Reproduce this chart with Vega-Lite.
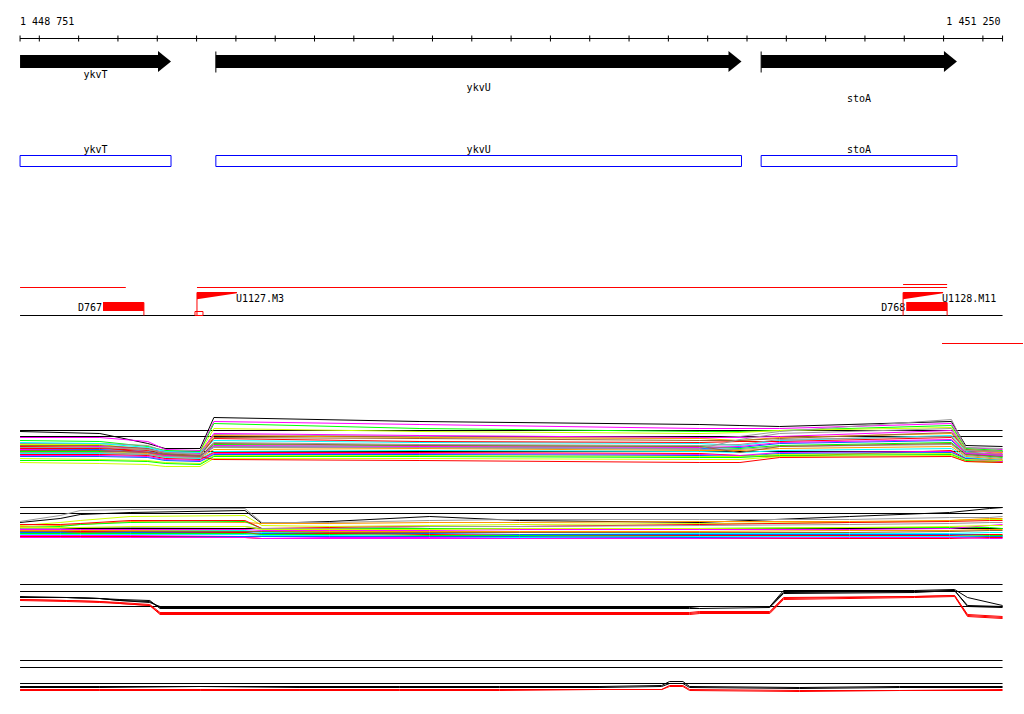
{
"$schema":"https://vega.github.io/schema/vega-lite/v6.json",
"width":1024,"height":714,
"autosize":{"type":"fit","contains":"padding"},
"padding":0,
"background":"#ffffff",
"config":{"view":{"stroke":null},"text":{"font":"DejaVu Sans Mono","fontSize":10,"color":"#000000"}},
"datasets":{
"ticks":[{"p":1448751},{"p":1448800},{"p":1448900},{"p":1449000},{"p":1449100},{"p":1449200},{"p":1449300},{"p":1449400},{"p":1449500},{"p":1449600},{"p":1449700},{"p":1449800},{"p":1449900},{"p":1450000},{"p":1450100},{"p":1450200},{"p":1450300},{"p":1450400},{"p":1450500},{"p":1450600},{"p":1450700},{"p":1450800},{"p":1450900},{"p":1451000},{"p":1451100},{"p":1451200},{"p":1451250}],
"genes":[{"gene":"ykvT","start":1448751,"end":1449135},{"gene":"ykvU","start":1449249,"end":1450586},{"gene":"stoA","start":1450636,"end":1451134}],
"dfeat":[{"name":"D767","start":1448962,"end":1449066},{"name":"D768","start":1451005,"end":1451109}],
"ufeat":[{"name":"U1127.M3","start":1449201},{"name":"U1128.M11","start":1450997}],
"refs":[{"v":430},{"v":436},{"v":451},{"v":507},{"v":513},{"v":528},{"v":584},{"v":591},{"v":606},{"v":660},{"v":667},{"v":683}],
"series":[{"s":"a1","g":"k"},{"s":"a2","g":"m"},{"s":"a3","g":"l"},{"s":"a4","g":"y"},{"s":"a5","g":"g"},{"s":"a6","g":"m"},{"s":"a7","g":"o"},{"s":"a8","g":"c"},{"s":"a9","g":"r"},{"s":"a10","g":"b"},{"s":"a11","g":"w"},{"s":"a12","g":"l"},{"s":"a13","g":"g"},{"s":"a14","g":"o"},{"s":"a15","g":"c"},{"s":"a16","g":"r"},{"s":"a17","g":"m"},{"s":"a18","g":"b"},{"s":"a19","g":"y"},{"s":"a20","g":"l"},{"s":"a21","g":"y"},{"s":"a22","g":"r"},{"s":"a23","g":"g"},{"s":"a24","g":"m"},{"s":"a25","g":"w"},{"s":"a26","g":"g"},
{"s":"b1","g":"k"},{"s":"b2","g":"g"},{"s":"b3","g":"y"},{"s":"b4","g":"o"},{"s":"b5","g":"l"},{"s":"b6","g":"r"},{"s":"b7","g":"g"},{"s":"b8","g":"m"},{"s":"b9","g":"c"},{"s":"b10","g":"b"},{"s":"b11","g":"r"},{"s":"b12","g":"l"},{"s":"b13","g":"m"},{"s":"b14","g":"o"},{"s":"b15","g":"w"},{"s":"b16","g":"y"},{"s":"b17","g":"c"},{"s":"b18","g":"b"},{"s":"b19","g":"r"},{"s":"b20","g":"m"},
{"s":"c1","g":"k"},{"s":"c2","g":"k"},{"s":"c3","g":"k"},{"s":"c4","g":"r"},{"s":"c5","g":"r"},{"s":"c6","g":"r"},
{"s":"d1","g":"k"},{"s":"d2","g":"k"},{"s":"d3","g":"r"},{"s":"d4","g":"r"}],
"prof":[
{"s":"a1","p":1448751,"v":431},{"s":"a1","p":1448954,"v":433},{"s":"a1","p":1449076,"v":443},{"s":"a1","p":1449120,"v":448},{"s":"a1","p":1449209,"v":448},{"s":"a1","p":1449244,"v":417},{"s":"a1","p":1449768,"v":421},{"s":"a1","p":1450480,"v":424},{"s":"a1","p":1450582,"v":425},{"s":"a1","p":1450683,"v":426},{"s":"a1","p":1451120,"v":421},{"s":"a1","p":1451156,"v":445},{"s":"a1","p":1451250,"v":446},
{"s":"a2","p":1448751,"v":437},{"s":"a2","p":1448954,"v":437},{"s":"a2","p":1449076,"v":441},{"s":"a2","p":1449120,"v":449},{"s":"a2","p":1449209,"v":450},{"s":"a2","p":1449244,"v":421},{"s":"a2","p":1449768,"v":424},{"s":"a2","p":1450480,"v":428},{"s":"a2","p":1450582,"v":428},{"s":"a2","p":1450683,"v":428},{"s":"a2","p":1451120,"v":423},{"s":"a2","p":1451156,"v":447},{"s":"a2","p":1451250,"v":449},
{"s":"a3","p":1448751,"v":440},{"s":"a3","p":1448954,"v":441},{"s":"a3","p":1449076,"v":446},{"s":"a3","p":1449120,"v":450},{"s":"a3","p":1449209,"v":451},{"s":"a3","p":1449244,"v":423},{"s":"a3","p":1449768,"v":428},{"s":"a3","p":1450480,"v":431},{"s":"a3","p":1450582,"v":431},{"s":"a3","p":1450683,"v":430},{"s":"a3","p":1451120,"v":425},{"s":"a3","p":1451156,"v":448},{"s":"a3","p":1451250,"v":450},
{"s":"a4","p":1448751,"v":444},{"s":"a4","p":1448954,"v":444},{"s":"a4","p":1449076,"v":449},{"s":"a4","p":1449120,"v":452},{"s":"a4","p":1449209,"v":452},{"s":"a4","p":1449244,"v":428},{"s":"a4","p":1449768,"v":431},{"s":"a4","p":1450480,"v":433},{"s":"a4","p":1450582,"v":432},{"s":"a4","p":1450683,"v":430},{"s":"a4","p":1451120,"v":427},{"s":"a4","p":1451156,"v":449},{"s":"a4","p":1451250,"v":452},
{"s":"a5","p":1448751,"v":443},{"s":"a5","p":1448954,"v":443},{"s":"a5","p":1449076,"v":445},{"s":"a5","p":1449120,"v":451},{"s":"a5","p":1449209,"v":452},{"s":"a5","p":1449244,"v":434},{"s":"a5","p":1449768,"v":436},{"s":"a5","p":1450480,"v":438},{"s":"a5","p":1450582,"v":436},{"s":"a5","p":1450683,"v":431},{"s":"a5","p":1451120,"v":419},{"s":"a5","p":1451156,"v":447},{"s":"a5","p":1451250,"v":448},
{"s":"a6","p":1448751,"v":447},{"s":"a6","p":1448954,"v":446},{"s":"a6","p":1449076,"v":448},{"s":"a6","p":1449120,"v":452},{"s":"a6","p":1449209,"v":453},{"s":"a6","p":1449244,"v":433},{"s":"a6","p":1449768,"v":435},{"s":"a6","p":1450480,"v":437},{"s":"a6","p":1450582,"v":437},{"s":"a6","p":1450683,"v":436},{"s":"a6","p":1451120,"v":430},{"s":"a6","p":1451156,"v":450},{"s":"a6","p":1451250,"v":453},
{"s":"a7","p":1448751,"v":446},{"s":"a7","p":1448954,"v":447},{"s":"a7","p":1449076,"v":449},{"s":"a7","p":1449120,"v":453},{"s":"a7","p":1449209,"v":454},{"s":"a7","p":1449244,"v":435},{"s":"a7","p":1449768,"v":437},{"s":"a7","p":1450480,"v":438},{"s":"a7","p":1450582,"v":440},{"s":"a7","p":1450683,"v":437},{"s":"a7","p":1451120,"v":433},{"s":"a7","p":1451156,"v":450},{"s":"a7","p":1451250,"v":452},
{"s":"a8","p":1448751,"v":442},{"s":"a8","p":1448954,"v":443},{"s":"a8","p":1449076,"v":447},{"s":"a8","p":1449120,"v":451},{"s":"a8","p":1449209,"v":452},{"s":"a8","p":1449244,"v":440},{"s":"a8","p":1449768,"v":442},{"s":"a8","p":1450480,"v":443},{"s":"a8","p":1450582,"v":445},{"s":"a8","p":1450683,"v":440},{"s":"a8","p":1451120,"v":435},{"s":"a8","p":1451156,"v":451},{"s":"a8","p":1451250,"v":455},
{"s":"a9","p":1448751,"v":448},{"s":"a9","p":1448954,"v":448},{"s":"a9","p":1449076,"v":450},{"s":"a9","p":1449120,"v":454},{"s":"a9","p":1449209,"v":455},{"s":"a9","p":1449244,"v":438},{"s":"a9","p":1449768,"v":441},{"s":"a9","p":1450480,"v":442},{"s":"a9","p":1450582,"v":441},{"s":"a9","p":1450683,"v":441},{"s":"a9","p":1451120,"v":437},{"s":"a9","p":1451156,"v":452},{"s":"a9","p":1451250,"v":454},
{"s":"a10","p":1448751,"v":449},{"s":"a10","p":1448954,"v":449},{"s":"a10","p":1449076,"v":451},{"s":"a10","p":1449120,"v":454},{"s":"a10","p":1449209,"v":455},{"s":"a10","p":1449244,"v":446},{"s":"a10","p":1449768,"v":447},{"s":"a10","p":1450480,"v":448},{"s":"a10","p":1450582,"v":447},{"s":"a10","p":1450683,"v":443},{"s":"a10","p":1451120,"v":440},{"s":"a10","p":1451156,"v":453},{"s":"a10","p":1451250,"v":456},
{"s":"a11","p":1448751,"v":445},{"s":"a11","p":1448954,"v":445},{"s":"a11","p":1449076,"v":448},{"s":"a11","p":1449120,"v":453},{"s":"a11","p":1449209,"v":455},{"s":"a11","p":1449244,"v":437},{"s":"a11","p":1449768,"v":438},{"s":"a11","p":1450480,"v":440},{"s":"a11","p":1450582,"v":440},{"s":"a11","p":1450683,"v":438},{"s":"a11","p":1451120,"v":432},{"s":"a11","p":1451156,"v":449},{"s":"a11","p":1451250,"v":451},
{"s":"a12","p":1448751,"v":451},{"s":"a12","p":1448954,"v":451},{"s":"a12","p":1449076,"v":452},{"s":"a12","p":1449120,"v":455},{"s":"a12","p":1449209,"v":456},{"s":"a12","p":1449244,"v":444},{"s":"a12","p":1449768,"v":445},{"s":"a12","p":1450480,"v":446},{"s":"a12","p":1450582,"v":448},{"s":"a12","p":1450683,"v":445},{"s":"a12","p":1451120,"v":442},{"s":"a12","p":1451156,"v":454},{"s":"a12","p":1451250,"v":457},
{"s":"a13","p":1448751,"v":450},{"s":"a13","p":1448954,"v":450},{"s":"a13","p":1449076,"v":451},{"s":"a13","p":1449120,"v":455},{"s":"a13","p":1449209,"v":456},{"s":"a13","p":1449244,"v":447},{"s":"a13","p":1449768,"v":447},{"s":"a13","p":1450480,"v":449},{"s":"a13","p":1450582,"v":449},{"s":"a13","p":1450683,"v":446},{"s":"a13","p":1451120,"v":444},{"s":"a13","p":1451156,"v":455},{"s":"a13","p":1451250,"v":458},
{"s":"a14","p":1448751,"v":452},{"s":"a14","p":1448954,"v":452},{"s":"a14","p":1449076,"v":453},{"s":"a14","p":1449120,"v":456},{"s":"a14","p":1449209,"v":457},{"s":"a14","p":1449244,"v":449},{"s":"a14","p":1449768,"v":448},{"s":"a14","p":1450480,"v":450},{"s":"a14","p":1450582,"v":450},{"s":"a14","p":1450683,"v":448},{"s":"a14","p":1451120,"v":446},{"s":"a14","p":1451156,"v":456},{"s":"a14","p":1451250,"v":459},
{"s":"a15","p":1448751,"v":453},{"s":"a15","p":1448954,"v":453},{"s":"a15","p":1449076,"v":454},{"s":"a15","p":1449120,"v":457},{"s":"a15","p":1449209,"v":458},{"s":"a15","p":1449244,"v":451},{"s":"a15","p":1449768,"v":450},{"s":"a15","p":1450480,"v":451},{"s":"a15","p":1450582,"v":452},{"s":"a15","p":1450683,"v":450},{"s":"a15","p":1451120,"v":448},{"s":"a15","p":1451156,"v":457},{"s":"a15","p":1451250,"v":460},
{"s":"a16","p":1448751,"v":454},{"s":"a16","p":1448954,"v":454},{"s":"a16","p":1449076,"v":455},{"s":"a16","p":1449120,"v":458},{"s":"a16","p":1449209,"v":459},{"s":"a16","p":1449244,"v":452},{"s":"a16","p":1449768,"v":452},{"s":"a16","p":1450480,"v":453},{"s":"a16","p":1450582,"v":455},{"s":"a16","p":1450683,"v":456},{"s":"a16","p":1451120,"v":450},{"s":"a16","p":1451156,"v":458},{"s":"a16","p":1451250,"v":461},
{"s":"a17","p":1448751,"v":455},{"s":"a17","p":1448954,"v":455},{"s":"a17","p":1449076,"v":456},{"s":"a17","p":1449120,"v":459},{"s":"a17","p":1449209,"v":460},{"s":"a17","p":1449244,"v":453},{"s":"a17","p":1449768,"v":453},{"s":"a17","p":1450480,"v":454},{"s":"a17","p":1450582,"v":455},{"s":"a17","p":1450683,"v":452},{"s":"a17","p":1451120,"v":451},{"s":"a17","p":1451156,"v":459},{"s":"a17","p":1451250,"v":461},
{"s":"a18","p":1448751,"v":456},{"s":"a18","p":1448954,"v":456},{"s":"a18","p":1449076,"v":457},{"s":"a18","p":1449120,"v":460},{"s":"a18","p":1449209,"v":461},{"s":"a18","p":1449244,"v":454},{"s":"a18","p":1449768,"v":454},{"s":"a18","p":1450480,"v":455},{"s":"a18","p":1450582,"v":456},{"s":"a18","p":1450683,"v":453},{"s":"a18","p":1451120,"v":452},{"s":"a18","p":1451156,"v":458},{"s":"a18","p":1451250,"v":460},
{"s":"a19","p":1448751,"v":458},{"s":"a19","p":1448954,"v":459},{"s":"a19","p":1449076,"v":460},{"s":"a19","p":1449120,"v":462},{"s":"a19","p":1449209,"v":463},{"s":"a19","p":1449244,"v":455},{"s":"a19","p":1449768,"v":455},{"s":"a19","p":1450480,"v":456},{"s":"a19","p":1450582,"v":456},{"s":"a19","p":1450683,"v":454},{"s":"a19","p":1451120,"v":453},{"s":"a19","p":1451156,"v":459},{"s":"a19","p":1451250,"v":460},
{"s":"a20","p":1448751,"v":460},{"s":"a20","p":1448954,"v":460},{"s":"a20","p":1449076,"v":461},{"s":"a20","p":1449120,"v":463},{"s":"a20","p":1449209,"v":464},{"s":"a20","p":1449244,"v":456},{"s":"a20","p":1449768,"v":456},{"s":"a20","p":1450480,"v":457},{"s":"a20","p":1450582,"v":457},{"s":"a20","p":1450683,"v":455},{"s":"a20","p":1451120,"v":454},{"s":"a20","p":1451156,"v":460},{"s":"a20","p":1451250,"v":462},
{"s":"a21","p":1448751,"v":462},{"s":"a21","p":1448954,"v":463},{"s":"a21","p":1449076,"v":464},{"s":"a21","p":1449120,"v":466},{"s":"a21","p":1449209,"v":466},{"s":"a21","p":1449244,"v":458},{"s":"a21","p":1449768,"v":458},{"s":"a21","p":1450480,"v":459},{"s":"a21","p":1450582,"v":459},{"s":"a21","p":1450683,"v":456},{"s":"a21","p":1451120,"v":455},{"s":"a21","p":1451156,"v":461},{"s":"a21","p":1451250,"v":462},
{"s":"a22","p":1448751,"v":446},{"s":"a22","p":1448954,"v":447},{"s":"a22","p":1449076,"v":452},{"s":"a22","p":1449120,"v":455},{"s":"a22","p":1449209,"v":456},{"s":"a22","p":1449244,"v":459},{"s":"a22","p":1449768,"v":460},{"s":"a22","p":1450480,"v":462},{"s":"a22","p":1450582,"v":462},{"s":"a22","p":1450683,"v":457},{"s":"a22","p":1451120,"v":456},{"s":"a22","p":1451156,"v":461},{"s":"a22","p":1451250,"v":462},
{"s":"a23","p":1448751,"v":447},{"s":"a23","p":1448954,"v":447},{"s":"a23","p":1449076,"v":449},{"s":"a23","p":1449120,"v":452},{"s":"a23","p":1449209,"v":454},{"s":"a23","p":1449244,"v":442},{"s":"a23","p":1449768,"v":444},{"s":"a23","p":1450480,"v":445},{"s":"a23","p":1450582,"v":444},{"s":"a23","p":1450683,"v":439},{"s":"a23","p":1451120,"v":436},{"s":"a23","p":1451156,"v":452},{"s":"a23","p":1451250,"v":454},
{"s":"a24","p":1448751,"v":449},{"s":"a24","p":1448954,"v":450},{"s":"a24","p":1449076,"v":452},{"s":"a24","p":1449120,"v":455},{"s":"a24","p":1449209,"v":456},{"s":"a24","p":1449244,"v":445},{"s":"a24","p":1449768,"v":446},{"s":"a24","p":1450480,"v":447},{"s":"a24","p":1450582,"v":446},{"s":"a24","p":1450683,"v":442},{"s":"a24","p":1451120,"v":439},{"s":"a24","p":1451156,"v":453},{"s":"a24","p":1451250,"v":455},
{"s":"a25","p":1448751,"v":450},{"s":"a25","p":1448954,"v":450},{"s":"a25","p":1449076,"v":452},{"s":"a25","p":1449120,"v":454},{"s":"a25","p":1449209,"v":456},{"s":"a25","p":1449244,"v":443},{"s":"a25","p":1449768,"v":445},{"s":"a25","p":1450480,"v":446},{"s":"a25","p":1450582,"v":452},{"s":"a25","p":1450683,"v":446},{"s":"a25","p":1451120,"v":443},{"s":"a25","p":1451156,"v":454},{"s":"a25","p":1451250,"v":456},
{"s":"a26","p":1448751,"v":452},{"s":"a26","p":1448954,"v":452},{"s":"a26","p":1449076,"v":454},{"s":"a26","p":1449120,"v":456},{"s":"a26","p":1449209,"v":457},{"s":"a26","p":1449244,"v":446},{"s":"a26","p":1449768,"v":447},{"s":"a26","p":1450480,"v":448},{"s":"a26","p":1450582,"v":439},{"s":"a26","p":1450683,"v":433},{"s":"a26","p":1451120,"v":428},{"s":"a26","p":1451156,"v":450},{"s":"a26","p":1451250,"v":451},
{"s":"b1","p":1448751,"v":522},{"s":"b1","p":1448853,"v":518},{"s":"b1","p":1448904,"v":514},{"s":"b1","p":1449031,"v":512},{"s":"b1","p":1449323,"v":510},{"s":"b1","p":1449366,"v":523},{"s":"b1","p":1449539,"v":521},{"s":"b1","p":1449793,"v":516},{"s":"b1","p":1450022,"v":520},{"s":"b1","p":1450480,"v":522},{"s":"b1","p":1450861,"v":516},{"s":"b1","p":1451115,"v":512},{"s":"b1","p":1451217,"v":508},{"s":"b1","p":1451250,"v":507},
{"s":"b2","p":1448751,"v":521},{"s":"b2","p":1448853,"v":515},{"s":"b2","p":1448904,"v":510},{"s":"b2","p":1449031,"v":509},{"s":"b2","p":1449323,"v":508},{"s":"b2","p":1449366,"v":522},{"s":"b2","p":1449539,"v":522},{"s":"b2","p":1449793,"v":520},{"s":"b2","p":1450022,"v":519},{"s":"b2","p":1450480,"v":519},{"s":"b2","p":1450861,"v":519},{"s":"b2","p":1451115,"v":517},{"s":"b2","p":1451217,"v":517},{"s":"b2","p":1451250,"v":516},
{"s":"b3","p":1448751,"v":525},{"s":"b3","p":1448853,"v":522},{"s":"b3","p":1448904,"v":520},{"s":"b3","p":1449031,"v":516},{"s":"b3","p":1449323,"v":515},{"s":"b3","p":1449366,"v":525},{"s":"b3","p":1449539,"v":526},{"s":"b3","p":1449793,"v":525},{"s":"b3","p":1450022,"v":524},{"s":"b3","p":1450480,"v":523},{"s":"b3","p":1450861,"v":522},{"s":"b3","p":1451115,"v":520},{"s":"b3","p":1451217,"v":519},{"s":"b3","p":1451250,"v":519},
{"s":"b4","p":1448751,"v":526},{"s":"b4","p":1448853,"v":525},{"s":"b4","p":1448904,"v":524},{"s":"b4","p":1449031,"v":521},{"s":"b4","p":1449323,"v":522},{"s":"b4","p":1449366,"v":523},{"s":"b4","p":1449539,"v":523},{"s":"b4","p":1449793,"v":522},{"s":"b4","p":1450022,"v":522},{"s":"b4","p":1450480,"v":521},{"s":"b4","p":1450861,"v":521},{"s":"b4","p":1451115,"v":520},{"s":"b4","p":1451217,"v":518},{"s":"b4","p":1451250,"v":518},
{"s":"b5","p":1448751,"v":527},{"s":"b5","p":1448853,"v":526},{"s":"b5","p":1448904,"v":524},{"s":"b5","p":1449031,"v":522},{"s":"b5","p":1449323,"v":521},{"s":"b5","p":1449366,"v":528},{"s":"b5","p":1449539,"v":528},{"s":"b5","p":1449793,"v":528},{"s":"b5","p":1450022,"v":528},{"s":"b5","p":1450480,"v":528},{"s":"b5","p":1450861,"v":527},{"s":"b5","p":1451115,"v":527},{"s":"b5","p":1451217,"v":527},{"s":"b5","p":1451250,"v":528},
{"s":"b6","p":1448751,"v":524},{"s":"b6","p":1448853,"v":524},{"s":"b6","p":1448904,"v":523},{"s":"b6","p":1449031,"v":520},{"s":"b6","p":1449323,"v":520},{"s":"b6","p":1449366,"v":528},{"s":"b6","p":1449539,"v":527},{"s":"b6","p":1449793,"v":526},{"s":"b6","p":1450022,"v":526},{"s":"b6","p":1450480,"v":524},{"s":"b6","p":1450861,"v":522},{"s":"b6","p":1451115,"v":521},{"s":"b6","p":1451217,"v":520},{"s":"b6","p":1451250,"v":520},
{"s":"b7","p":1448751,"v":528},{"s":"b7","p":1448853,"v":528},{"s":"b7","p":1448904,"v":527},{"s":"b7","p":1449031,"v":527},{"s":"b7","p":1449323,"v":526},{"s":"b7","p":1449366,"v":528},{"s":"b7","p":1449539,"v":528},{"s":"b7","p":1449793,"v":526},{"s":"b7","p":1450022,"v":526},{"s":"b7","p":1450480,"v":525},{"s":"b7","p":1450861,"v":524},{"s":"b7","p":1451115,"v":523},{"s":"b7","p":1451217,"v":522},{"s":"b7","p":1451250,"v":522},
{"s":"b8","p":1448751,"v":529},{"s":"b8","p":1448853,"v":529},{"s":"b8","p":1448904,"v":529},{"s":"b8","p":1449031,"v":529},{"s":"b8","p":1449323,"v":529},{"s":"b8","p":1449366,"v":530},{"s":"b8","p":1449539,"v":530},{"s":"b8","p":1449793,"v":530},{"s":"b8","p":1450022,"v":529},{"s":"b8","p":1450480,"v":529},{"s":"b8","p":1450861,"v":529},{"s":"b8","p":1451115,"v":528},{"s":"b8","p":1451217,"v":525},{"s":"b8","p":1451250,"v":524},
{"s":"b9","p":1448751,"v":531},{"s":"b9","p":1448853,"v":531},{"s":"b9","p":1448904,"v":531},{"s":"b9","p":1449031,"v":530},{"s":"b9","p":1449323,"v":530},{"s":"b9","p":1449366,"v":532},{"s":"b9","p":1449539,"v":532},{"s":"b9","p":1449793,"v":532},{"s":"b9","p":1450022,"v":532},{"s":"b9","p":1450480,"v":533},{"s":"b9","p":1450861,"v":533},{"s":"b9","p":1451115,"v":533},{"s":"b9","p":1451217,"v":532},{"s":"b9","p":1451250,"v":532},
{"s":"b10","p":1448751,"v":532},{"s":"b10","p":1448853,"v":532},{"s":"b10","p":1448904,"v":532},{"s":"b10","p":1449031,"v":532},{"s":"b10","p":1449323,"v":532},{"s":"b10","p":1449366,"v":533},{"s":"b10","p":1449539,"v":533},{"s":"b10","p":1449793,"v":533},{"s":"b10","p":1450022,"v":534},{"s":"b10","p":1450480,"v":534},{"s":"b10","p":1450861,"v":534},{"s":"b10","p":1451115,"v":534},{"s":"b10","p":1451217,"v":534},{"s":"b10","p":1451250,"v":535},
{"s":"b11","p":1448751,"v":530},{"s":"b11","p":1448853,"v":531},{"s":"b11","p":1448904,"v":531},{"s":"b11","p":1449031,"v":531},{"s":"b11","p":1449323,"v":532},{"s":"b11","p":1449366,"v":534},{"s":"b11","p":1449539,"v":533},{"s":"b11","p":1449793,"v":534},{"s":"b11","p":1450022,"v":535},{"s":"b11","p":1450480,"v":535},{"s":"b11","p":1450861,"v":535},{"s":"b11","p":1451115,"v":535},{"s":"b11","p":1451217,"v":534},{"s":"b11","p":1451250,"v":534},
{"s":"b12","p":1448751,"v":533},{"s":"b12","p":1448853,"v":533},{"s":"b12","p":1448904,"v":533},{"s":"b12","p":1449031,"v":533},{"s":"b12","p":1449323,"v":533},{"s":"b12","p":1449366,"v":534},{"s":"b12","p":1449539,"v":534},{"s":"b12","p":1449793,"v":535},{"s":"b12","p":1450022,"v":535},{"s":"b12","p":1450480,"v":536},{"s":"b12","p":1450861,"v":536},{"s":"b12","p":1451115,"v":536},{"s":"b12","p":1451217,"v":535},{"s":"b12","p":1451250,"v":535},
{"s":"b13","p":1448751,"v":535},{"s":"b13","p":1448853,"v":535},{"s":"b13","p":1448904,"v":535},{"s":"b13","p":1449031,"v":535},{"s":"b13","p":1449323,"v":536},{"s":"b13","p":1449366,"v":536},{"s":"b13","p":1449539,"v":537},{"s":"b13","p":1449793,"v":537},{"s":"b13","p":1450022,"v":537},{"s":"b13","p":1450480,"v":537},{"s":"b13","p":1450861,"v":536},{"s":"b13","p":1451115,"v":536},{"s":"b13","p":1451217,"v":536},{"s":"b13","p":1451250,"v":537},
{"s":"b14","p":1448751,"v":530},{"s":"b14","p":1448853,"v":530},{"s":"b14","p":1448904,"v":530},{"s":"b14","p":1449031,"v":530},{"s":"b14","p":1449323,"v":531},{"s":"b14","p":1449366,"v":531},{"s":"b14","p":1449539,"v":531},{"s":"b14","p":1449793,"v":531},{"s":"b14","p":1450022,"v":531},{"s":"b14","p":1450480,"v":531},{"s":"b14","p":1450861,"v":530},{"s":"b14","p":1451115,"v":530},{"s":"b14","p":1451217,"v":529},{"s":"b14","p":1451250,"v":529},
{"s":"b15","p":1448751,"v":531},{"s":"b15","p":1448853,"v":531},{"s":"b15","p":1448904,"v":532},{"s":"b15","p":1449031,"v":531},{"s":"b15","p":1449323,"v":531},{"s":"b15","p":1449366,"v":531},{"s":"b15","p":1449539,"v":532},{"s":"b15","p":1449793,"v":532},{"s":"b15","p":1450022,"v":532},{"s":"b15","p":1450480,"v":532},{"s":"b15","p":1450861,"v":532},{"s":"b15","p":1451115,"v":531},{"s":"b15","p":1451217,"v":530},{"s":"b15","p":1451250,"v":530},
{"s":"b16","p":1448751,"v":527},{"s":"b16","p":1448853,"v":527},{"s":"b16","p":1448904,"v":527},{"s":"b16","p":1449031,"v":526},{"s":"b16","p":1449323,"v":526},{"s":"b16","p":1449366,"v":529},{"s":"b16","p":1449539,"v":529},{"s":"b16","p":1449793,"v":529},{"s":"b16","p":1450022,"v":528},{"s":"b16","p":1450480,"v":528},{"s":"b16","p":1450861,"v":527},{"s":"b16","p":1451115,"v":526},{"s":"b16","p":1451217,"v":525},{"s":"b16","p":1451250,"v":525},
{"s":"b17","p":1448751,"v":534},{"s":"b17","p":1448853,"v":534},{"s":"b17","p":1448904,"v":534},{"s":"b17","p":1449031,"v":534},{"s":"b17","p":1449323,"v":534},{"s":"b17","p":1449366,"v":535},{"s":"b17","p":1449539,"v":535},{"s":"b17","p":1449793,"v":536},{"s":"b17","p":1450022,"v":537},{"s":"b17","p":1450480,"v":536},{"s":"b17","p":1450861,"v":536},{"s":"b17","p":1451115,"v":536},{"s":"b17","p":1451217,"v":536},{"s":"b17","p":1451250,"v":536},
{"s":"b18","p":1448751,"v":536},{"s":"b18","p":1448853,"v":536},{"s":"b18","p":1448904,"v":536},{"s":"b18","p":1449031,"v":536},{"s":"b18","p":1449323,"v":536},{"s":"b18","p":1449366,"v":536},{"s":"b18","p":1449539,"v":536},{"s":"b18","p":1449793,"v":536},{"s":"b18","p":1450022,"v":536},{"s":"b18","p":1450480,"v":537},{"s":"b18","p":1450861,"v":538},{"s":"b18","p":1451115,"v":537},{"s":"b18","p":1451217,"v":536},{"s":"b18","p":1451250,"v":536},
{"s":"b19","p":1448751,"v":536},{"s":"b19","p":1448853,"v":536},{"s":"b19","p":1448904,"v":536},{"s":"b19","p":1449031,"v":536},{"s":"b19","p":1449323,"v":537},{"s":"b19","p":1449366,"v":538},{"s":"b19","p":1449539,"v":538},{"s":"b19","p":1449793,"v":538},{"s":"b19","p":1450022,"v":538},{"s":"b19","p":1450480,"v":538},{"s":"b19","p":1450861,"v":538},{"s":"b19","p":1451115,"v":538},{"s":"b19","p":1451217,"v":537},{"s":"b19","p":1451250,"v":537},
{"s":"b20","p":1448751,"v":537},{"s":"b20","p":1448853,"v":537},{"s":"b20","p":1448904,"v":537},{"s":"b20","p":1449031,"v":537},{"s":"b20","p":1449323,"v":537},{"s":"b20","p":1449366,"v":538},{"s":"b20","p":1449539,"v":538},{"s":"b20","p":1449793,"v":538},{"s":"b20","p":1450022,"v":538},{"s":"b20","p":1450480,"v":538},{"s":"b20","p":1450861,"v":537},{"s":"b20","p":1451115,"v":537},{"s":"b20","p":1451217,"v":538},{"s":"b20","p":1451250,"v":538},
{"s":"c1","p":1448751,"v":596},{"s":"c1","p":1448870,"v":597},{"s":"c1","p":1448954,"v":598},{"s":"c1","p":1449005,"v":600},{"s":"c1","p":1449081,"v":601},{"s":"c1","p":1449107,"v":607},{"s":"c1","p":1450454,"v":607},{"s":"c1","p":1450480,"v":606},{"s":"c1","p":1450658,"v":606},{"s":"c1","p":1450693,"v":592},{"s":"c1","p":1451026,"v":591},{"s":"c1","p":1451128,"v":590},{"s":"c1","p":1451161,"v":605},{"s":"c1","p":1451250,"v":606},
{"s":"c2","p":1448751,"v":597},{"s":"c2","p":1448870,"v":597},{"s":"c2","p":1448954,"v":598},{"s":"c2","p":1449005,"v":599},{"s":"c2","p":1449081,"v":600},{"s":"c2","p":1449107,"v":608},{"s":"c2","p":1450454,"v":608},{"s":"c2","p":1450480,"v":608},{"s":"c2","p":1450658,"v":607},{"s":"c2","p":1450693,"v":593},{"s":"c2","p":1451026,"v":592},{"s":"c2","p":1451128,"v":590},{"s":"c2","p":1451161,"v":606},{"s":"c2","p":1451250,"v":607},
{"s":"c3","p":1448751,"v":597},{"s":"c3","p":1448870,"v":597},{"s":"c3","p":1448954,"v":598},{"s":"c3","p":1449005,"v":600},{"s":"c3","p":1449081,"v":602},{"s":"c3","p":1449107,"v":606},{"s":"c3","p":1450454,"v":606},{"s":"c3","p":1450480,"v":606},{"s":"c3","p":1450658,"v":606},{"s":"c3","p":1450693,"v":590},{"s":"c3","p":1451026,"v":590},{"s":"c3","p":1451128,"v":589},{"s":"c3","p":1451161,"v":597},{"s":"c3","p":1451250,"v":605},
{"s":"c4","p":1448751,"v":599},{"s":"c4","p":1448870,"v":600},{"s":"c4","p":1448954,"v":601},{"s":"c4","p":1449005,"v":603},{"s":"c4","p":1449081,"v":605},{"s":"c4","p":1449107,"v":613},{"s":"c4","p":1450454,"v":613},{"s":"c4","p":1450480,"v":612},{"s":"c4","p":1450658,"v":612},{"s":"c4","p":1450693,"v":598},{"s":"c4","p":1451026,"v":596},{"s":"c4","p":1451128,"v":595},{"s":"c4","p":1451161,"v":614},{"s":"c4","p":1451250,"v":616},
{"s":"c5","p":1448751,"v":600},{"s":"c5","p":1448870,"v":601},{"s":"c5","p":1448954,"v":602},{"s":"c5","p":1449005,"v":603},{"s":"c5","p":1449081,"v":605},{"s":"c5","p":1449107,"v":614},{"s":"c5","p":1450454,"v":614},{"s":"c5","p":1450480,"v":613},{"s":"c5","p":1450658,"v":613},{"s":"c5","p":1450693,"v":599},{"s":"c5","p":1451026,"v":597},{"s":"c5","p":1451128,"v":596},{"s":"c5","p":1451161,"v":616},{"s":"c5","p":1451250,"v":618},
{"s":"c6","p":1448751,"v":599},{"s":"c6","p":1448870,"v":600},{"s":"c6","p":1448954,"v":601},{"s":"c6","p":1449005,"v":602},{"s":"c6","p":1449081,"v":604},{"s":"c6","p":1449107,"v":612},{"s":"c6","p":1450454,"v":612},{"s":"c6","p":1450480,"v":611},{"s":"c6","p":1450658,"v":611},{"s":"c6","p":1450693,"v":597},{"s":"c6","p":1451026,"v":596},{"s":"c6","p":1451128,"v":595},{"s":"c6","p":1451161,"v":615},{"s":"c6","p":1451250,"v":617},
{"s":"d1","p":1448751,"v":686},{"s":"d1","p":1448954,"v":686},{"s":"d1","p":1449209,"v":686},{"s":"d1","p":1449463,"v":686},{"s":"d1","p":1449717,"v":686},{"s":"d1","p":1449971,"v":686},{"s":"d1","p":1450226,"v":686},{"s":"d1","p":1450383,"v":685},{"s":"d1","p":1450403,"v":681},{"s":"d1","p":1450437,"v":681},{"s":"d1","p":1450454,"v":686},{"s":"d1","p":1450734,"v":687},{"s":"d1","p":1450988,"v":686},{"s":"d1","p":1451250,"v":686},
{"s":"d2","p":1448751,"v":687},{"s":"d2","p":1448954,"v":687},{"s":"d2","p":1449209,"v":686},{"s":"d2","p":1449463,"v":687},{"s":"d2","p":1449717,"v":687},{"s":"d2","p":1449971,"v":687},{"s":"d2","p":1450226,"v":687},{"s":"d2","p":1450383,"v":686},{"s":"d2","p":1450403,"v":683},{"s":"d2","p":1450437,"v":683},{"s":"d2","p":1450454,"v":687},{"s":"d2","p":1450734,"v":688},{"s":"d2","p":1450988,"v":687},{"s":"d2","p":1451250,"v":687},
{"s":"d3","p":1448751,"v":689},{"s":"d3","p":1448954,"v":689},{"s":"d3","p":1449209,"v":689},{"s":"d3","p":1449463,"v":689},{"s":"d3","p":1449717,"v":689},{"s":"d3","p":1449971,"v":689},{"s":"d3","p":1450226,"v":689},{"s":"d3","p":1450383,"v":689},{"s":"d3","p":1450403,"v":685},{"s":"d3","p":1450437,"v":685},{"s":"d3","p":1450454,"v":689},{"s":"d3","p":1450734,"v":690},{"s":"d3","p":1450988,"v":690},{"s":"d3","p":1451250,"v":689},
{"s":"d4","p":1448751,"v":690},{"s":"d4","p":1448954,"v":690},{"s":"d4","p":1449209,"v":690},{"s":"d4","p":1449463,"v":690},{"s":"d4","p":1449717,"v":690},{"s":"d4","p":1449971,"v":690},{"s":"d4","p":1450226,"v":689},{"s":"d4","p":1450383,"v":689},{"s":"d4","p":1450403,"v":686},{"s":"d4","p":1450437,"v":686},{"s":"d4","p":1450454,"v":690},{"s":"d4","p":1450734,"v":691},{"s":"d4","p":1450988,"v":690},{"s":"d4","p":1451250,"v":690}
]
},
"layer":[
{"data":{"values":[{"a":1448751,"b":1451250}]},"mark":{"type":"rule","color":"#000000","strokeWidth":1},
 "encoding":{"x":{"field":"a","type":"quantitative","scale":{"domain":[1448700,1451302]},"axis":null},"x2":{"field":"b"},"y":{"datum":38,"type":"quantitative","scale":{"domain":[-0.5,713.5],"reverse":true},"axis":null}}},
{"data":{"name":"ticks"},"mark":{"type":"rule","color":"#000000","strokeWidth":1},
 "encoding":{"x":{"field":"p","type":"quantitative","scale":{"domain":[1448700,1451302]},"axis":null},"y":{"datum":35,"type":"quantitative","scale":{"domain":[-0.5,713.5],"reverse":true},"axis":null},"y2":{"datum":41}}},
{"data":{"values":[{"p":1448751,"t":"1 448 751"}]},"mark":{"type":"text","align":"left","baseline":"alphabetic"},
 "encoding":{"x":{"field":"p","type":"quantitative","scale":{"domain":[1448700,1451302]},"axis":null},"y":{"datum":24,"type":"quantitative","scale":{"domain":[-0.5,713.5],"reverse":true},"axis":null},"text":{"field":"t"}}},
{"data":{"values":[{"p":1451250,"t":"1 451 250"}]},"mark":{"type":"text","align":"right","baseline":"alphabetic","dx":-2},
 "encoding":{"x":{"field":"p","type":"quantitative","scale":{"domain":[1448700,1451302]},"axis":null},"y":{"datum":24,"type":"quantitative","scale":{"domain":[-0.5,713.5],"reverse":true},"axis":null},"text":{"field":"t"}}},
{"data":{"name":"genes"},"mark":{"type":"rect","color":"#000000","x2Offset":-12},
 "encoding":{"x":{"field":"start","type":"quantitative","scale":{"domain":[1448700,1451302]},"axis":null},"x2":{"field":"end"},"y":{"datum":54.5,"type":"quantitative","scale":{"domain":[-0.5,713.5],"reverse":true},"axis":null},"y2":{"datum":67.5}}},
{"data":{"name":"genes"},"mark":{"type":"point","shape":"M-1.24,-1L0,0L-1.24,1Z","size":441,"filled":true,"opacity":1,"color":"#000000","strokeWidth":0},
 "encoding":{"x":{"field":"end","type":"quantitative","scale":{"domain":[1448700,1451302]},"axis":null},"y":{"datum":61,"type":"quantitative","scale":{"domain":[-0.5,713.5],"reverse":true},"axis":null}}},
{"data":{"name":"genes"},"transform":[{"filter":"datum.gene !== 'ykvT'"}],"mark":{"type":"rule","color":"#000000","strokeWidth":1},
 "encoding":{"x":{"field":"start","type":"quantitative","scale":{"domain":[1448700,1451302]},"axis":null},"y":{"datum":51,"type":"quantitative","scale":{"domain":[-0.5,713.5],"reverse":true},"axis":null},"y2":{"datum":72}}},
{"data":{"name":"genes"},"transform":[{"fold":["start","end"],"as":["k","pp"]},{"aggregate":[{"op":"mean","field":"pp","as":"mid"}],"groupby":["gene"]},{"filter":"datum.gene === 'ykvT'"}],"mark":{"type":"text","align":"center","baseline":"alphabetic"},
 "encoding":{"x":{"field":"mid","type":"quantitative","scale":{"domain":[1448700,1451302]},"axis":null},"y":{"datum":77,"type":"quantitative","scale":{"domain":[-0.5,713.5],"reverse":true},"axis":null},"text":{"field":"gene"}}},
{"data":{"name":"genes"},"transform":[{"fold":["start","end"],"as":["k","pp"]},{"aggregate":[{"op":"mean","field":"pp","as":"mid"}],"groupby":["gene"]},{"filter":"datum.gene === 'ykvU'"}],"mark":{"type":"text","align":"center","baseline":"alphabetic"},
 "encoding":{"x":{"field":"mid","type":"quantitative","scale":{"domain":[1448700,1451302]},"axis":null},"y":{"datum":90,"type":"quantitative","scale":{"domain":[-0.5,713.5],"reverse":true},"axis":null},"text":{"field":"gene"}}},
{"data":{"name":"genes"},"transform":[{"fold":["start","end"],"as":["k","pp"]},{"aggregate":[{"op":"mean","field":"pp","as":"mid"}],"groupby":["gene"]},{"filter":"datum.gene === 'stoA'"}],"mark":{"type":"text","align":"center","baseline":"alphabetic"},
 "encoding":{"x":{"field":"mid","type":"quantitative","scale":{"domain":[1448700,1451302]},"axis":null},"y":{"datum":101,"type":"quantitative","scale":{"domain":[-0.5,713.5],"reverse":true},"axis":null},"text":{"field":"gene"}}},
{"data":{"name":"genes"},"mark":{"type":"rect","filled":false,"color":"#0000ff","strokeWidth":1},
 "encoding":{"x":{"field":"start","type":"quantitative","scale":{"domain":[1448700,1451302]},"axis":null},"x2":{"field":"end"},"y":{"datum":155,"type":"quantitative","scale":{"domain":[-0.5,713.5],"reverse":true},"axis":null},"y2":{"datum":166}}},
{"data":{"name":"genes"},"transform":[{"fold":["start","end"],"as":["k","pp"]},{"aggregate":[{"op":"mean","field":"pp","as":"mid"}],"groupby":["gene"]}],"mark":{"type":"text","align":"center","baseline":"alphabetic"},
 "encoding":{"x":{"field":"mid","type":"quantitative","scale":{"domain":[1448700,1451302]},"axis":null},"y":{"datum":152,"type":"quantitative","scale":{"domain":[-0.5,713.5],"reverse":true},"axis":null},"text":{"field":"gene"}}},
{"data":{"values":[{"a":1448751,"b":1449020},{"a":1449201,"b":1451109}]},"mark":{"type":"rule","color":"#ff0000","strokeWidth":1},
 "encoding":{"x":{"field":"a","type":"quantitative","scale":{"domain":[1448700,1451302]},"axis":null},"x2":{"field":"b"},"y":{"datum":287,"type":"quantitative","scale":{"domain":[-0.5,713.5],"reverse":true},"axis":null}}},
{"data":{"values":[{"a":1450997,"b":1451109}]},"mark":{"type":"rule","color":"#ff0000","strokeWidth":1},
 "encoding":{"x":{"field":"a","type":"quantitative","scale":{"domain":[1448700,1451302]},"axis":null},"x2":{"field":"b"},"y":{"datum":284,"type":"quantitative","scale":{"domain":[-0.5,713.5],"reverse":true},"axis":null}}},
{"data":{"values":[{"a":1451096,"b":1451302}]},"mark":{"type":"rule","color":"#ff0000","strokeWidth":1},
 "encoding":{"x":{"field":"a","type":"quantitative","scale":{"domain":[1448700,1451302]},"axis":null},"x2":{"field":"b"},"y":{"datum":343,"type":"quantitative","scale":{"domain":[-0.5,713.5],"reverse":true},"axis":null}}},
{"data":{"values":[{"a":1448751,"b":1451250}]},"mark":{"type":"rule","color":"#000000","strokeWidth":1},
 "encoding":{"x":{"field":"a","type":"quantitative","scale":{"domain":[1448700,1451302]},"axis":null},"x2":{"field":"b"},"y":{"datum":315,"type":"quantitative","scale":{"domain":[-0.5,713.5],"reverse":true},"axis":null}}},
{"data":{"name":"dfeat"},"mark":{"type":"rect","color":"#ff0000"},
 "encoding":{"x":{"field":"start","type":"quantitative","scale":{"domain":[1448700,1451302]},"axis":null},"x2":{"field":"end"},"y":{"datum":301.5,"type":"quantitative","scale":{"domain":[-0.5,713.5],"reverse":true},"axis":null},"y2":{"datum":310.5}}},
{"data":{"name":"dfeat"},"mark":{"type":"rule","color":"#ff0000","strokeWidth":1},
 "encoding":{"x":{"field":"end","type":"quantitative","scale":{"domain":[1448700,1451302]},"axis":null},"y":{"datum":302,"type":"quantitative","scale":{"domain":[-0.5,713.5],"reverse":true},"axis":null},"y2":{"datum":315}}},
{"data":{"name":"dfeat"},"mark":{"type":"text","align":"right","baseline":"alphabetic","dx":-1},
 "encoding":{"x":{"field":"start","type":"quantitative","scale":{"domain":[1448700,1451302]},"axis":null},"y":{"datum":310,"type":"quantitative","scale":{"domain":[-0.5,713.5],"reverse":true},"axis":null},"text":{"field":"name"}}},
{"data":{"name":"ufeat"},"mark":{"type":"rule","color":"#ff0000","strokeWidth":1},
 "encoding":{"x":{"field":"start","type":"quantitative","scale":{"domain":[1448700,1451302]},"axis":null},"y":{"datum":292,"type":"quantitative","scale":{"domain":[-0.5,713.5],"reverse":true},"axis":null},"y2":{"datum":315}}},
{"data":{"name":"ufeat"},"mark":{"type":"point","shape":"M0,0L2,0L2,0.06L0,0.36Z","size":1600,"filled":true,"opacity":1,"color":"#ff0000","strokeWidth":0},
 "encoding":{"x":{"field":"start","type":"quantitative","scale":{"domain":[1448700,1451302]},"axis":null},"y":{"datum":291.5,"type":"quantitative","scale":{"domain":[-0.5,713.5],"reverse":true},"axis":null}}},
{"data":{"name":"ufeat"},"mark":{"type":"text","align":"left","baseline":"alphabetic","dx":39},
 "encoding":{"x":{"field":"start","type":"quantitative","scale":{"domain":[1448700,1451302]},"axis":null},"y":{"datum":301,"type":"quantitative","scale":{"domain":[-0.5,713.5],"reverse":true},"axis":null},"text":{"field":"name"}}},
{"data":{"name":"ufeat"},"transform":[{"filter":"datum.name === 'U1127.M3'"}],"mark":{"type":"rect","filled":false,"color":"#ff0000","strokeWidth":1,"xOffset":-2,"x2Offset":6},
 "encoding":{"x":{"field":"start","type":"quantitative","scale":{"domain":[1448700,1451302]},"axis":null},"x2":{"field":"start"},"y":{"datum":311,"type":"quantitative","scale":{"domain":[-0.5,713.5],"reverse":true},"axis":null},"y2":{"datum":315}}},
{"data":{"name":"refs"},"mark":{"type":"rule","color":"#000000","strokeWidth":1},
 "encoding":{"x":{"datum":1448751,"type":"quantitative","scale":{"domain":[1448700,1451302]},"axis":null},"x2":{"datum":1451250},"y":{"field":"v","type":"quantitative","scale":{"domain":[-0.5,713.5],"reverse":true},"axis":null}}},
{"data":{"name":"prof"},"transform":[{"lookup":"s","from":{"data":{"name":"series"},"key":"s","fields":["g"]}}],"mark":{"type":"line","strokeWidth":1,"interpolate":"linear"},
 "encoding":{"x":{"field":"p","type":"quantitative","scale":{"domain":[1448700,1451302]},"axis":null},"y":{"field":"v","type":"quantitative","scale":{"domain":[-0.5,713.5],"reverse":true},"axis":null},
 "detail":{"field":"s"},
 "color":{"field":"g","type":"nominal","scale":{"domain":["k","m","l","y","g","o","c","r","b","w"],"range":["#000000","#ff00ff","#00ff00","#ccff00","#999999","#ff9900","#00ffff","#ff0000","#0066ff","#996633"]},"legend":null}}}
]
}
